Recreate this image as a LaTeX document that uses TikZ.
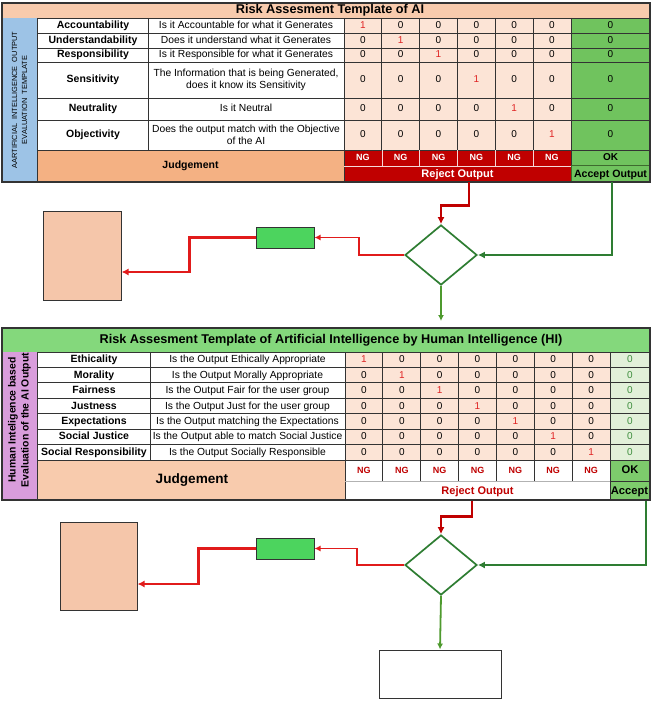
\documentclass[tikz,border=0pt]{standalone}
\usepackage{fontspec}
\setmainfont{Liberation Sans}
\usetikzlibrary{arrows.meta,shapes.geometric}

\definecolor{gridc}{HTML}{333333}
\definecolor{peachT}{HTML}{F8CBAD}
\definecolor{salmonT}{HTML}{F4B183}
\definecolor{blueT}{HTML}{9DC3E6}
\definecolor{pinkT}{HTML}{FCE4D6}
\definecolor{greenT}{HTML}{70C35E}
\definecolor{redT}{HTML}{C00000}
\definecolor{oneRed}{HTML}{E02424}
\definecolor{greenH}{HTML}{84D87C}
\definecolor{plumH}{HTML}{D99DDC}
\definecolor{lgreenH}{HTML}{E2F0D9}
\definecolor{zeroG}{HTML}{3E8E3E}
\definecolor{okG}{HTML}{7DCB6C}
\definecolor{acceptEdge}{HTML}{3E6B2E}
\definecolor{flowRed}{HTML}{E11B1B}
\definecolor{flowDarkRed}{HTML}{C00000}
\definecolor{flowGreen}{HTML}{2E7D32}
\definecolor{flowLGreen}{HTML}{4E9A2E}
\definecolor{boxPeach}{HTML}{F5C6AA}
\definecolor{boxGreen}{HTML}{4CD45E}

\begin{document}
\begin{tikzpicture}[x=1pt,y=-1pt,
  gridline/.style={gridc, line width=0.8pt},
  outerline/.style={gridc, line width=1.4pt},
  cell/.style={inner sep=0, text height=0.7em, text depth=0.1em},
  crit/.style={cell, font=\fontsize{10.5}{12}\selectfont\bfseries},
  descm/.style={inner sep=0, font=\fontsize{10.3}{12}\selectfont, align=center},
  desc/.style={cell, font=\fontsize{10.3}{12}\selectfont},
  val/.style={cell, font=\fontsize{10}{12}\selectfont},
  tabtitle/.style={cell, font=\fontsize{12.7}{14}\selectfont\bfseries},
  peachbox/.style={draw=gridc, line width=1pt, fill=boxPeach, inner sep=0},
  greenbox/.style={draw=gridc, line width=1pt, fill=boxGreen, inner sep=0},
  whitebox/.style={draw=gridc, line width=1pt, fill=white, inner sep=0},
  decision/.style={diamond, draw=flowGreen, line width=1.7pt, fill=white, inner sep=0},
  rejectflow/.style={flowDarkRed, line width=2.6pt, -{Latex[length=7pt,width=7pt]}},
  redthin/.style={flowRed, line width=1.8pt, -{Latex[length=6pt,width=6pt]}},
  redthick/.style={flowRed, line width=2.8pt, -{Latex[length=7pt,width=7pt]}},
  acceptflow/.style={flowGreen, line width=2.6pt, -{Latex[length=7pt,width=7pt]}},
  downflow/.style={flowLGreen, line width=1.8pt, -{Latex[length=6pt,width=6pt]}}
]
\useasboundingbox (0,0) rectangle (652,703);

%================ AI output evaluation table ================
\fill[peachT] (2,3) rectangle (650,18);
\fill[blueT] (2,18) rectangle (37,182);
\fill[white] (37,18) rectangle (344,150);
\fill[pinkT] (344,18) rectangle (571,150);
\fill[greenT] (571,18) rectangle (650,182);
\fill[salmonT] (37,150) rectangle (344,182);
\fill[redT] (344,150) rectangle (571,182);

\foreach \yy in {18,33,48,62,98,120,150}
  \draw[gridline] (37,\yy) -- (650,\yy);
\draw[gridline] (37,18) -- (37,182);
\draw[gridline] (148,18) -- (148,150);
\draw[gridline] (344,18) -- (344,182);
\foreach \k in {1,...,5}
  \draw[gridline] ({344+37.8*\k},18) -- ({344+37.8*\k},150);
\draw[gridline] (571,18) -- (571,182);
\foreach \k in {1,...,5}
  \draw[white!85!redT, line width=0.6pt] ({344+37.8*\k},150) -- ({344+37.8*\k},166);
\draw[white!85!redT, line width=0.6pt] (344,166) -- (571,166);
\draw[acceptEdge, line width=1pt] (571.5,166) rectangle (649.5,181.5);
\draw[outerline] (2,3) rectangle (650,182);

\node[tabtitle] (a-title) at (330,11) {Risk Assesment Template of AI};
\node[rotate=90, align=center, inner sep=0,
      font=\fontsize{7.4}{10}\selectfont] (a-side) at (19.5,100)
      {AARTIFICIAL\ \ INTELLIGENCE\ \ OUTPUT\\EVALUATION\ \ TEMPLATE};

\foreach \ya/\yb/\cname/\dst/\ds [count=\r] in {
  18/33/Accountability/desc/{Is it Accountable for what it Generates},
  33/48/Understandability/desc/{Does it understand what it Generates},
  48/62/Responsibility/desc/{Is it Responsible for what it Generates},
  62/98/Sensitivity/descm/{The Information that is being Generated,\\does it know its Sensitivity},
  98/120/Neutrality/desc/{Is it Neutral},
  120/150/Objectivity/descm/{Does the output match with the Objective\\of the AI}} {
  \pgfmathsetmacro\yc{(\ya+\yb)/2}
  \node[crit] (a-crit-\r) at (93,\yc) {\cname};
  \node[\dst] (a-desc-\r) at (246,\yc) {\ds};
  \foreach \c in {1,...,6} {
    \node[val] (a-v-\r-\c) at ({344+37.8*(\c-0.5)},\yc)
      {\ifnum\c=\r\color{oneRed}1\else 0\fi};
  }
  \node[val] (a-sum-\r) at (610.5,\yc) {0};
}
\node[cell, font=\fontsize{10.5}{12}\selectfont\bfseries] (a-judge) at (190.5,166) {Judgement};
\foreach \c in {1,...,6}
  \node[cell, font=\fontsize{9}{10}\selectfont\bfseries, text=white]
    (a-ng-\c) at ({344+37.8*(\c-0.5)},158) {NG};
\node[cell, font=\fontsize{10}{11}\selectfont\bfseries] (a-ok) at (610.5,158) {OK};
\node[cell, font=\fontsize{11}{12}\selectfont\bfseries, text=white] (a-reject) at (457.5,174.5) {Reject Output};
\node[cell, font=\fontsize{10.6}{12}\selectfont\bfseries] (a-accept) at (610.5,174.5) {Accept Output};

%================ First decision flow ================
\node[peachbox, minimum width=78pt, minimum height=88pt] (p1) at (82,256) {};
\node[greenbox, minimum width=58pt, minimum height=21pt] (g1) at (285,237.5) {};
\node[decision, minimum width=72pt, minimum height=60pt] (d1) at (441,255) {};
\coordinate (r1) at (469,182.5);
\coordinate (k1) at (612,182.5);
\coordinate (n1) at (441,321);

\draw[rejectflow] (r1) -- ++(0,23) -| (d1.north);
\draw[redthin] (d1.west) -- ++(-45,0) |- (g1.east);
\draw[redthick] (g1.west) -- ++(-66,0) |- ([yshift=-16pt]p1.east);
\draw[acceptflow] (k1) |- (d1.east);
\draw[downflow] (d1.south) -- (n1);

%================ Human intelligence evaluation table ================
\fill[greenH] (2,328) rectangle (650,352);
\fill[plumH] (2,352) rectangle (37,500);
\fill[white] (37,352) rectangle (345,460);
\fill[pinkT] (345,352) rectangle (610,460);
\fill[lgreenH] (610,352) rectangle (650,460);
\fill[peachT] (37,460) rectangle (345,500);
\fill[white] (345,460) rectangle (610,500);
\fill[okG] (610,460) rectangle (650,500);

\foreach \k in {0,...,7}
  \draw[gridline] (37,{352+15.4286*\k}) -- (650,{352+15.4286*\k});
\draw[gridline] (37,352) -- (37,500);
\draw[gridline] (150,352) -- (150,460);
\draw[gridline] (345,352) -- (345,500);
\foreach \k in {1,...,6}
  \draw[gridline] ({345+37.857*\k},352) -- ({345+37.857*\k},481);
\draw[gridline] (610,352) -- (610,500);
\draw[gray!60, line width=0.5pt] (345,481) -- (610,481);
\draw[gridline] (610,481) -- (650,481);
\draw[outerline] (2,328) rectangle (650,500);

\node[tabtitle] (b-title) at (331,340)
  {Risk Assesment Template of Artificial Intelligence by Human Intelligence (HI)};
\node[rotate=90, align=center, inner sep=0,
      font=\fontsize{10.4}{13}\selectfont\bfseries] (b-side) at (19.5,420)
      {Human Inteligence based\\Evaluation of the AI Output};

\foreach \cname/\ds [count=\r] in {
  Ethicality/{Is the Output Ethically Appropriate},
  Morality/{Is the Output Morally Appropriate},
  Fairness/{Is the Output Fair for the user group},
  Justness/{Is the Output Just for the user group},
  Expectations/{Is the Output matching the Expectations},
  Social Justice/{Is the Output able to match Social Justice},
  Social Responsibility/{Is the Output Socially Responsible}} {
  \pgfmathsetmacro\yc{352+15.4286*(\r-0.5)}
  \node[crit] (b-crit-\r) at (94,\yc) {\cname};
  \node[desc] (b-desc-\r) at (247.5,\yc) {\ds};
  \foreach \c in {1,...,7} {
    \node[val] (b-v-\r-\c) at ({345+37.857*(\c-0.5)},\yc)
      {\ifnum\c=\r\color{oneRed}1\else 0\fi};
  }
  \node[val, text=zeroG] (b-sum-\r) at (630,\yc) {0};
}
\node[cell, font=\fontsize{13.6}{16}\selectfont\bfseries] (b-judge) at (192,480) {Judgement};
\foreach \c in {1,...,7}
  \node[cell, font=\fontsize{9}{10}\selectfont\bfseries, text=redT]
    (b-ng-\c) at ({345+37.857*(\c-0.5)},470.5) {NG};
\node[cell, font=\fontsize{11.2}{12}\selectfont\bfseries] (b-ok) at (630,470.5) {OK};
\node[cell, font=\fontsize{11}{12}\selectfont\bfseries, text=redT] (b-reject) at (477.5,491) {Reject Output};
\node[cell, font=\fontsize{11.2}{12}\selectfont\bfseries] (b-accept) at (629.5,491) {Accept};

%================ Second decision flow ================
\node[peachbox, minimum width=77pt, minimum height=88pt] (p2) at (98.5,566) {};
\node[greenbox, minimum width=58pt, minimum height=21pt] (g2) at (285,548.5) {};
\node[decision, minimum width=72pt, minimum height=60pt] (d2) at (441,565) {};
\node[whitebox, minimum width=122pt, minimum height=48pt] (w2) at (440,674) {};
\coordinate (r2) at (472,500.5);
\coordinate (k2) at (646,500.5);

\draw[rejectflow] (r2) -- ++(0,16) -| (d2.north);
\draw[redthin] (d2.west) -- ++(-47,0) |- (g2.east);
\draw[redthick] (g2.west) -- ++(-57,0) |- ([yshift=-18pt]p2.east);
\draw[acceptflow] (k2) |- (d2.east);
\draw[downflow] (d2.south) -- (w2.north);
\end{tikzpicture}
\end{document}
